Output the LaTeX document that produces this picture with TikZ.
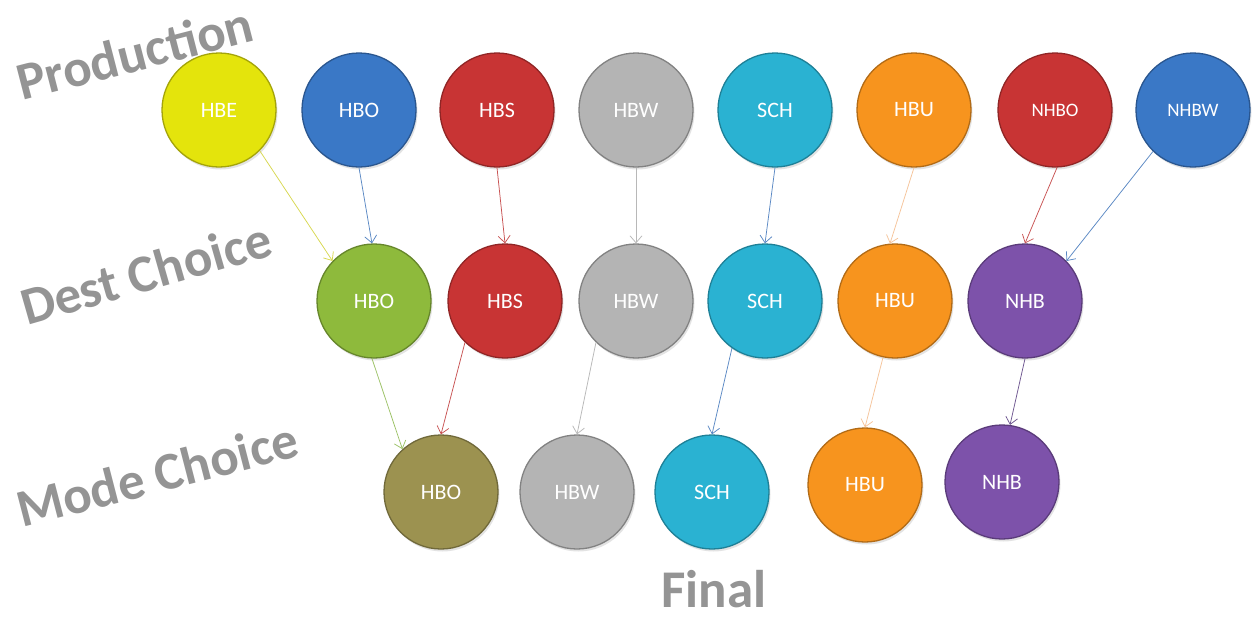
\documentclass[tikz,border=0pt]{standalone}
\usepackage{fontspec}
\setmainfont{Carlito}
\usetikzlibrary{arrows.meta,shadows}
\definecolor{cYel}{HTML}{E4E40C}
\definecolor{cBlue}{HTML}{3A78C6}
\definecolor{cRed}{HTML}{C83434}
\definecolor{cGray}{HTML}{B4B4B4}
\definecolor{cCyan}{HTML}{2AB2D2}
\definecolor{cOrange}{HTML}{F7941E}
\definecolor{cGreen}{HTML}{8EBA3C}
\definecolor{cOlive}{HTML}{9C9250}
\definecolor{cPurple}{HTML}{7D52AA}
\definecolor{aYel}{HTML}{D8D850}
\definecolor{aBlue}{HTML}{5A88C4}
\definecolor{aRed}{HTML}{C85252}
\definecolor{aGray}{HTML}{B8B8B8}
\definecolor{aPeach}{HTML}{F6C49A}
\definecolor{aGreen}{HTML}{9CC266}
\definecolor{aPurple}{HTML}{6E5690}
\definecolor{lblgray}{HTML}{949494}
\begin{document}
\begin{tikzpicture}[x=1pt,y=-1pt,
  ball/.style={circle, minimum size=114pt, inner sep=0pt, fill=#1, draw=#1!72!black, line width=1.3pt,
    text=white, font=\fontsize{22}{22}\selectfont,
    drop shadow={opacity=0.22,shadow xshift=1.5pt,shadow yshift=-2.5pt}},
  small/.style={font=\fontsize{19}{19}\selectfont},
  conn/.style={draw=#1, line width=0.75pt, -{Straight Barb[length=7pt,width=12pt]}},
  lbl/.style={font=\fontsize{53}{53}\selectfont\bfseries, text=lblgray, inner sep=0pt}]
\useasboundingbox[fill=white] (0,0) rectangle (1254,622);
% labels
\node[lbl, rotate=14.5, anchor=base west] (lp) at (22,101) {Production};
\node[lbl, rotate=16, anchor=base west] (ld) at (27,326) {Dest Choice};
\node[lbl, rotate=14.5, anchor=base west] (lm) at (22,528) {Mode Choice};
\node[lbl, anchor=base] (lf) at (714,607) {Final};
% production row
\node[ball=cYel] (p1) at (219,110) {HBE};
\node[ball=cBlue] (p2) at (359,110) {HBO};
\node[ball=cRed] (p3) at (497,110) {HBS};
\node[ball=cGray] (p4) at (636,110) {HBW};
\node[ball=cCyan] (p5) at (775,110) {SCH};
\node[ball=cOrange] (p6) at (914,110) {HBU};
\node[ball=cRed, small] (p7) at (1055,110) {NHBO};
\node[ball=cBlue, small] (p8) at (1193,110) {NHBW};
% destination row
\node[ball=cGreen] (d1) at (374,301) {HBO};
\node[ball=cRed] (d2) at (505,301) {HBS};
\node[ball=cGray] (d3) at (636,301) {HBW};
\node[ball=cCyan] (d4) at (765,301) {SCH};
\node[ball=cOrange] (d5) at (895,301) {HBU};
\node[ball=cPurple] (d6) at (1025,301) {NHB};
% mode row
\node[ball=cOlive] (m1) at (441,492) {HBO};
\node[ball=cGray] (m2) at (577,492) {HBW};
\node[ball=cCyan] (m3) at (712,492) {SCH};
\node[ball=cOrange] (m4) at (865,485) {HBU};
\node[ball=cPurple] (m5) at (1002,482) {NHB};
% connectors
\draw[conn=aYel] (p1.315) -- (d1.136);
\draw[conn=aBlue] (p2.south) -- (d1.92);
\draw[conn=aRed] (p3.south) -- (d2.north);
\draw[conn=aGray] (p4.south) -- (d3.north);
\draw[conn=aBlue] (p5.south) -- (d4.north);
\draw[conn=aPeach] (p6.south) -- (d5.95);
\draw[conn=aRed] (p7.272) -- (d6.north);
\draw[conn=aBlue] (p8.226) -- (d6.44);
\draw[conn=aGreen] (d1.268) -- (m1.132);
\draw[conn=aRed] (d2.226) -- (m1.north);
\draw[conn=aGray] (d3.226) -- (m2.north);
\draw[conn=aBlue] (d4.235) -- (m3.north);
\draw[conn=aPeach] (d5.258) -- (m4.north);
\draw[conn=aPurple] (d6.south) -- (m5.82);
\end{tikzpicture}
\end{document}
